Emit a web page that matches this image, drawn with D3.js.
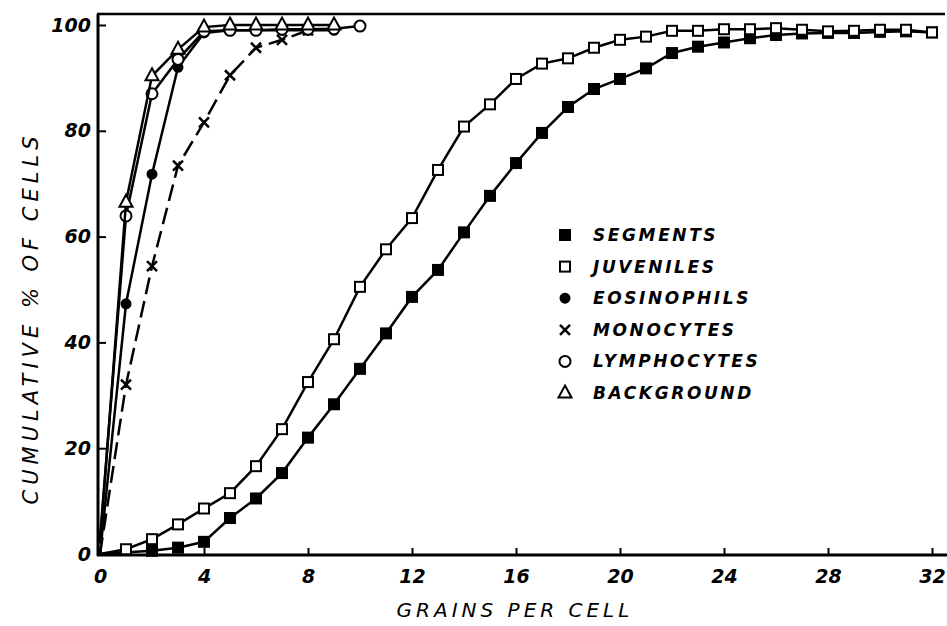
<!DOCTYPE html>
<html>
<head>
<meta charset="utf-8">
<script src="https://cdn.jsdelivr.net/npm/d3@7"></script>
<style>
  body { margin: 0; background: #fff; }
  svg { display: block; }
  .tick-label { font-family: "DejaVu Sans", sans-serif; font-style: italic; font-weight: bold; font-size: 19px; }
  .title { font-family: "DejaVu Sans", sans-serif; font-style: italic; font-size: 20px; letter-spacing: 4px; }
  .legend-text { font-family: "DejaVu Sans", sans-serif; font-style: italic; font-weight: bold; font-size: 17px; letter-spacing: 2.6px; }
</style>
</head>
<body>
<script>
var width = 947;
var height = 626;

// values
var xTicks = [0, 4, 8, 12, 16, 20, 24, 28, 32];
var yTicks = [0, 20, 40, 60, 80, 100];

var segmentsX = [0, 2, 3, 4, 5, 6, 7, 8, 9, 10, 11, 12, 13, 14, 15, 16, 17, 18, 19, 20, 21, 22, 23, 24, 25, 26, 27, 28, 29, 30, 31, 32];
var segmentsY = [0, 0.6, 1.2, 2.3, 6.8, 10.5, 15.3, 22, 28.3, 35, 41.7, 48.6, 53.7, 60.8, 67.7, 73.9, 79.6, 84.5, 87.9, 89.8, 91.8, 94.7, 95.9, 96.7, 97.5, 98.1, 98.4, 98.5, 98.5, 98.7, 98.8, 98.6];

var juvenilesX = [0, 1, 2, 3, 4, 5, 6, 7, 8, 9, 10, 11, 12, 13, 14, 15, 16, 17, 18, 19, 20, 21, 22, 23, 24, 25, 26, 27, 28, 29, 30, 31, 32];
var juvenilesY = [0, 0.9, 2.8, 5.6, 8.6, 11.5, 16.6, 23.6, 32.5, 40.6, 50.5, 57.6, 63.5, 72.6, 80.8, 85, 89.8, 92.7, 93.7, 95.7, 97.2, 97.8, 98.9, 98.9, 99.2, 99.2, 99.4, 99.1, 98.8, 98.9, 99.1, 99.1, 98.6];

var eosinophilsX = [0, 1, 2, 3, 4, 5, 6, 7, 8, 9];
var eosinophilsY = [0, 47.3, 71.8, 92, 98.5, 99, 99, 99, 99, 99];

var monocytesX = [0, 1, 2, 3, 4, 5, 6, 7, 8];
var monocytesY = [0, 32, 54.4, 73.4, 81.6, 90.5, 95.7, 97.2, 99];

var lymphocytesX = [0, 1, 2, 3, 4, 5, 6, 7, 8, 9, 10];
var lymphocytesY = [3, 63.9, 87, 93.5, 98.8, 99, 99, 99.2, 99.2, 99.3, 99.8];

var backgroundX = [0, 1, 2, 3, 4, 5, 6, 7, 8, 9];
var backgroundY = [2, 66.5, 90.4, 95.4, 99.6, 100, 100, 100, 100, 100];

var series = [
    {name: "SEGMENTS", xs: segmentsX, ys: segmentsY, marker: "fsquare", dash: null},
    {name: "JUVENILES", xs: juvenilesX, ys: juvenilesY, marker: "osquare", dash: null},
    {name: "EOSINOPHILS", xs: eosinophilsX, ys: eosinophilsY, marker: "fcircle", dash: null},
    {name: "MONOCYTES", xs: monocytesX, ys: monocytesY, marker: "cross", dash: "17,7"},
    {name: "LYMPHOCYTES", xs: lymphocytesX, ys: lymphocytesY, marker: "ocircle", dash: null},
    {name: "BACKGROUND", xs: backgroundX, ys: backgroundY, marker: "triangle", dash: null}
];

var svg = d3.select("body").append("svg").attr("width", width).attr("height", height);

var x = d3.scaleLinear().domain([0, 32]).range([100, 932]);
var y = d3.scaleLinear().domain([0, 100]).range([554, 25]);

// frame: top line, left axis, bottom axis
svg.append("line").attr("x1", 97).attr("x2", 945).attr("y1", 14).attr("y2", 14)
    .attr("stroke", "#000").attr("stroke-width", 2.5);

var xAxis = svg.append("g").attr("transform", "translate(0,555)")
    .call(d3.axisBottom(x).tickValues(xTicks).tickSize(-7).tickPadding(15).tickFormat(d3.format("d")));
xAxis.select(".domain").attr("d", "M97,0H947").attr("stroke-width", 3);
xAxis.selectAll(".tick line").attr("stroke-width", 2);
xAxis.selectAll(".tick text").attr("class", "tick-label").attr("fill", "#000");

var yAxis = svg.append("g").attr("transform", "translate(98,0)")
    .call(d3.axisLeft(y).tickValues(yTicks).tickSize(-8).tickPadding(7));
yAxis.select(".domain").attr("d", "M0,14V556").attr("stroke-width", 3);
yAxis.selectAll(".tick line").attr("stroke-width", 2);
yAxis.selectAll(".tick text").attr("class", "tick-label").attr("fill", "#000");

// axis titles
svg.append("text").attr("class", "title")
    .attr("transform", "translate(38,318) rotate(-90)")
    .attr("text-anchor", "middle")
    .style("font-size", "21px").style("letter-spacing", "5px")
    .text("CUMULATIVE  %  OF  CELLS");
svg.append("text").attr("class", "title")
    .attr("x", 515).attr("y", 617)
    .attr("text-anchor", "middle")
    .text("GRAINS  PER  CELL");

function drawMarker(g, type, cx, cy) {
    if (type === "fsquare" || type === "osquare") {
        g.append("rect").attr("x", cx - 5).attr("y", cy - 5).attr("width", 10).attr("height", 10)
            .attr("fill", type === "fsquare" ? "#000" : "#fff")
            .attr("stroke", "#000").attr("stroke-width", 2);
    } else if (type === "fcircle" || type === "ocircle") {
        g.append("circle").attr("cx", cx).attr("cy", cy).attr("r", type === "fcircle" ? 4.5 : 5.5)
            .attr("fill", type === "fcircle" ? "#000" : "#fff")
            .attr("stroke", "#000").attr("stroke-width", 2);
    } else if (type === "cross") {
        g.append("path").attr("d", "M" + (cx - 5) + "," + (cy - 5) + "L" + (cx + 5) + "," + (cy + 5) +
            "M" + (cx + 5) + "," + (cy - 5) + "L" + (cx - 5) + "," + (cy + 5))
            .attr("stroke", "#000").attr("stroke-width", 2.5).attr("fill", "none");
    } else if (type === "triangle") {
        g.append("path").attr("d", "M" + cx + "," + (cy - 7.5) + "L" + (cx + 6.5) + "," + (cy + 4.5) + "L" + (cx - 6.5) + "," + (cy + 4.5) + "Z")
            .attr("fill", "#fff").attr("stroke", "#000").attr("stroke-width", 2);
    }
}

var line = d3.line().x(function (d) { return x(d[0]); }).y(function (d) { return y(d[1]); });

series.forEach(function (s) {
    var pts = s.xs.map(function (v, i) { return [v, s.ys[i]]; });
    var g = svg.append("g");
    g.append("path").attr("d", line(pts))
        .attr("fill", "none").attr("stroke", "#000").attr("stroke-width", 2.5)
        .attr("stroke-dasharray", s.dash);
    pts.forEach(function (p, i) {
        if (i === 0) return;
        drawMarker(g, s.marker, x(p[0]), y(p[1]));
    });
});

// legend
var legendY = d3.scalePoint().domain(series.map(function (s) { return s.name; })).range([235, 393]);
series.forEach(function (s) {
    var g = svg.append("g");
    drawMarker(g, s.marker, 565, legendY(s.name));
    g.append("text").attr("class", "legend-text")
        .attr("x", 593).attr("y", legendY(s.name) + 6)
        .text(s.name);
});
</script>
</body>
</html>
